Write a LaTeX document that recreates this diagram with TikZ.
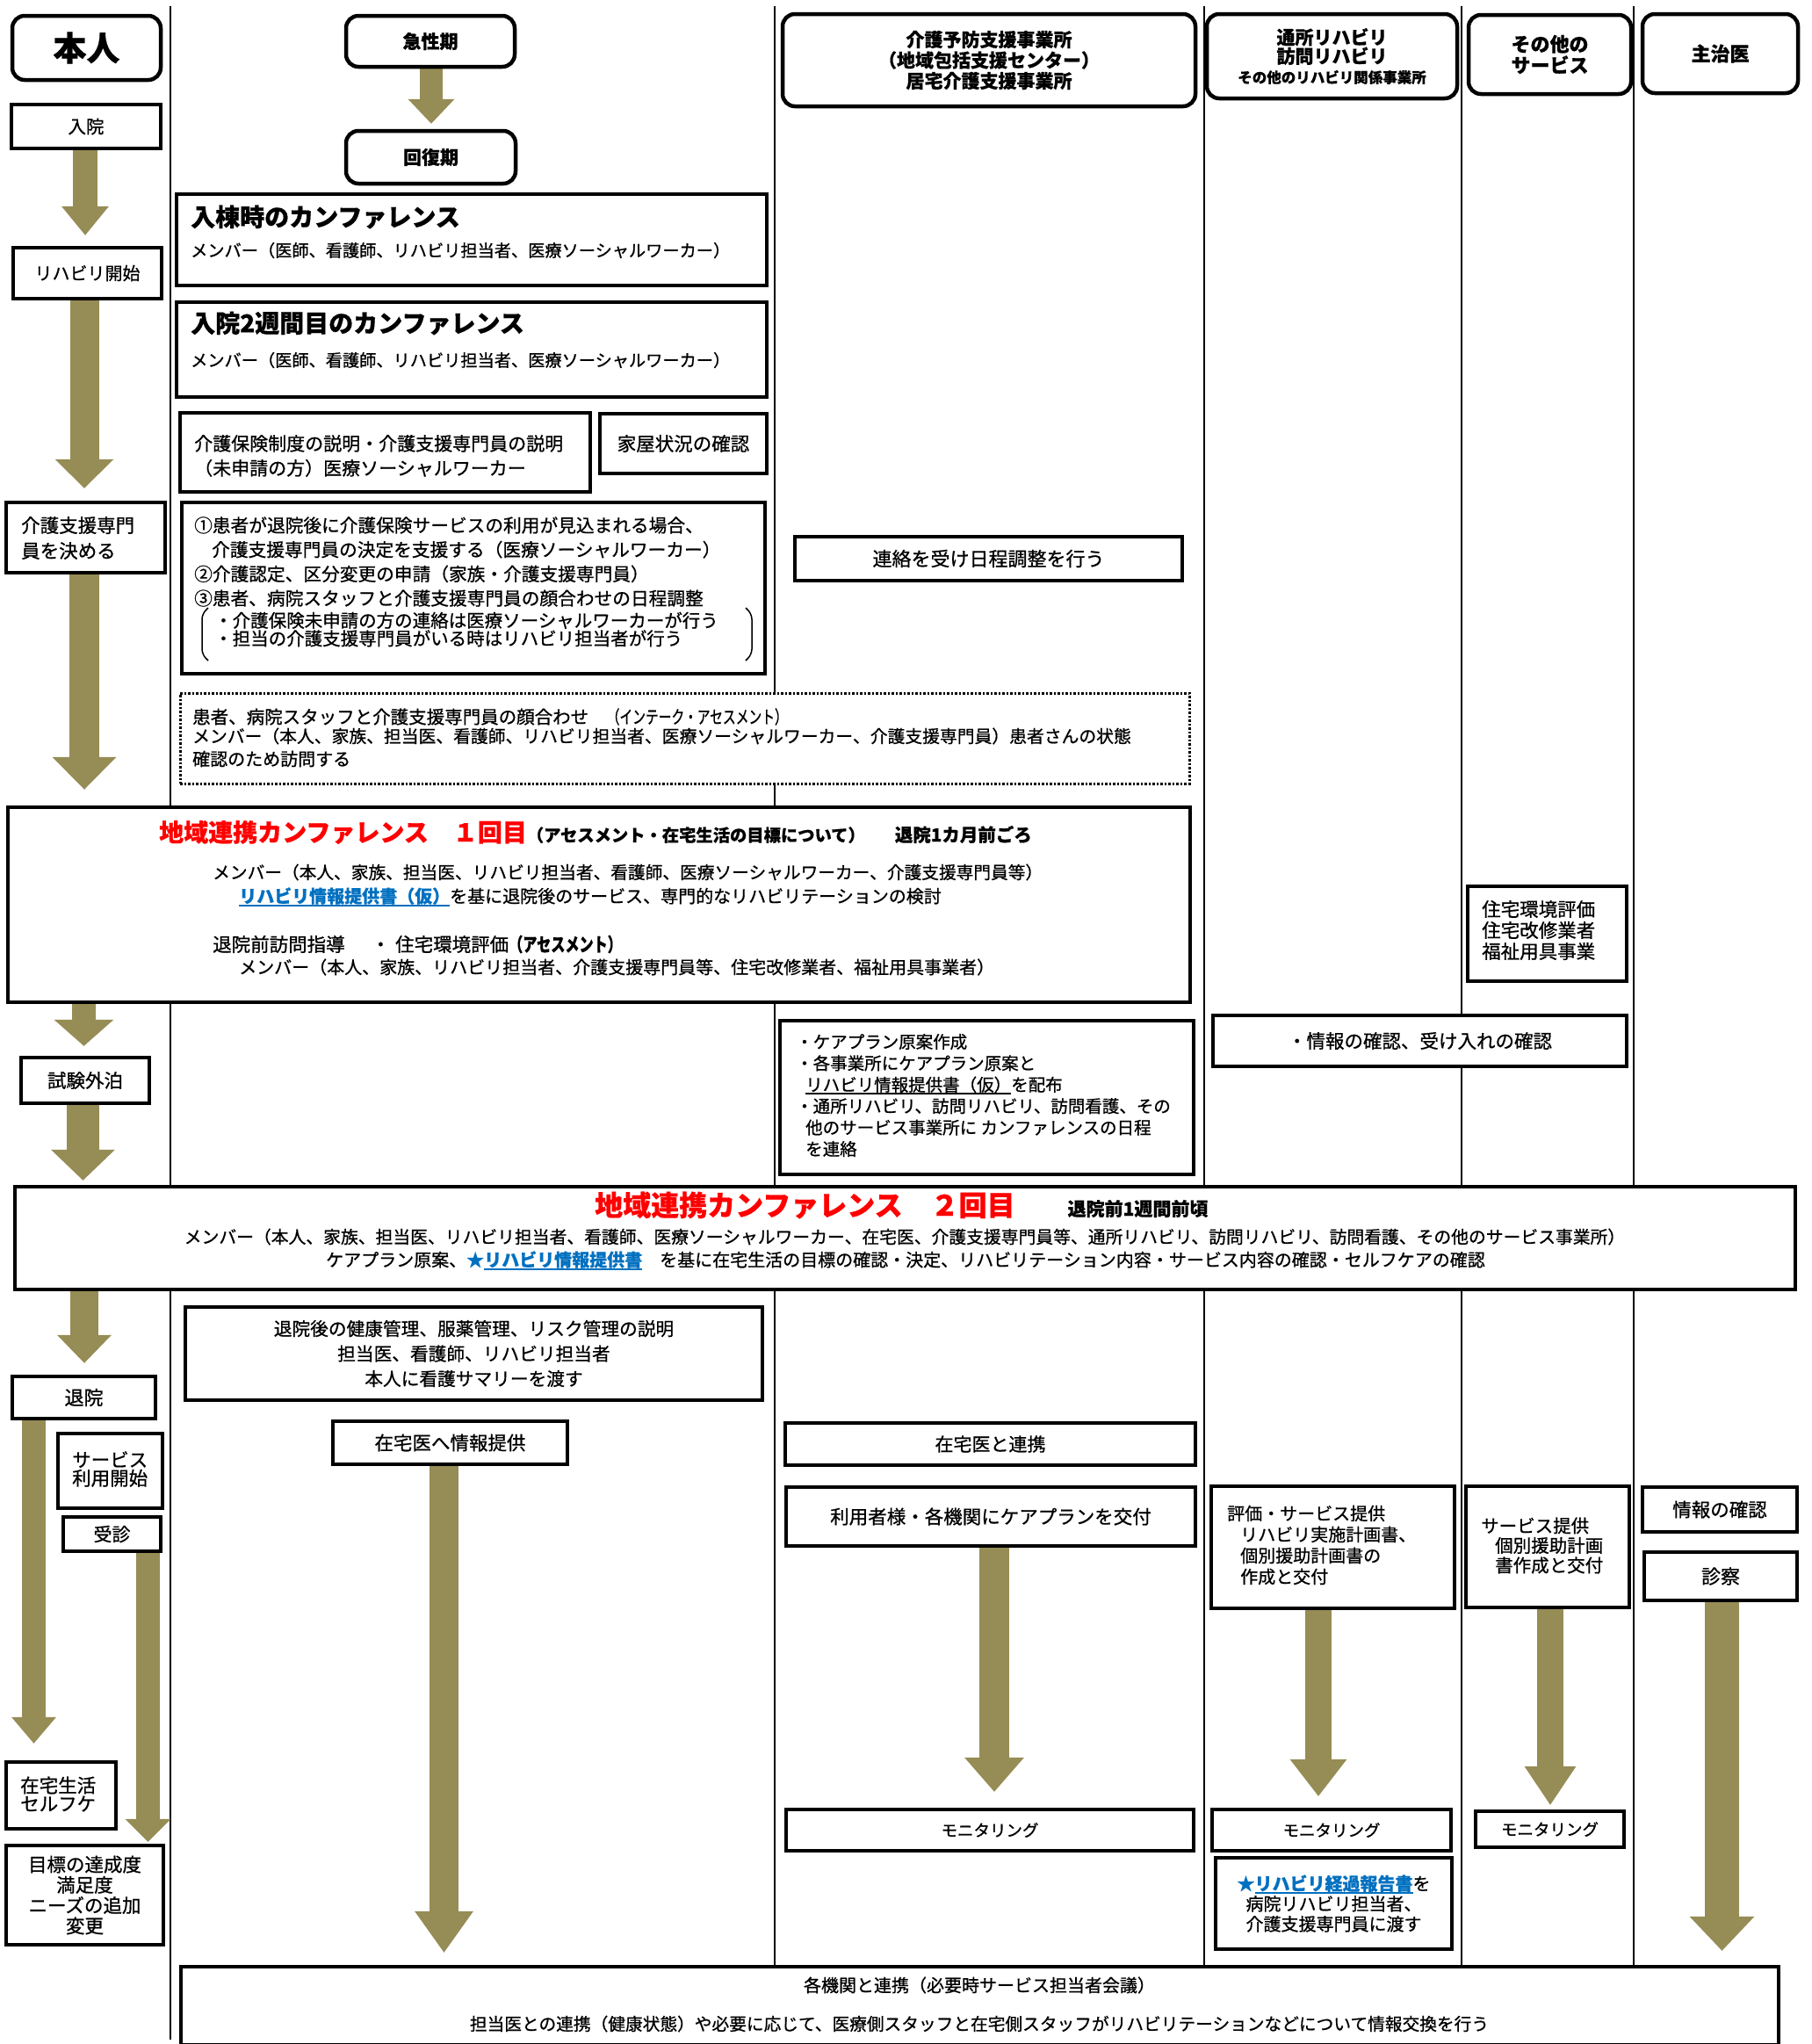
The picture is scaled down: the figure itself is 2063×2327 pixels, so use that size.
\documentclass[tikz,border=0pt]{standalone}
\usepackage{fontspec}
\usepackage{graphicx}
\setmainfont{Noto Sans CJK JP}[UprightFeatures={FakeBold=0.8},BoldFeatures={FakeBold=0.5}]
\usetikzlibrary{arrows.meta,calc}
\definecolor{arrowc}{RGB}{150,140,85}
\definecolor{linkblue}{RGB}{0,112,192}
\definecolor{tred}{RGB}{255,0,0}
\pgfdeclarelayer{bg}
\pgfsetlayers{bg,main}
\newcommand{\myfs}[2]{\fontsize{#1}{#2}\selectfont\lineskiplimit=-100pt\relax}
\newcommand{\myul}[1]{\begingroup\setbox0=\hbox{#1}\rlap{\rule[-4pt]{\wd0}{1.8pt}}\box0\endgroup}
\newcommand{\bxat}[7]{\node[#6,minimum width={(#4)-(#2)},minimum height={(#5)-(#3)}] (#1) at ({((#2)+(#4))/2},{((#3)+(#5))/2}) {#7};}
\begin{document}
\begin{tikzpicture}[x=1pt,y=-1pt,
  bx/.style={draw,line width=4.5pt,fill=white,inner sep=0pt,align=center},
  hd/.style={bx,rounded corners=14pt,font=\bfseries\myfs{21}{23.5}},
  tx/.style={anchor=west,align=left,inner sep=0pt},
  ct/.style={anchor=center,align=center,inner sep=0pt},
  col/.style={line width=2pt},
  blk/.style n args={3}{draw=arrowc,line width=#1pt,-{Triangle[length=#3pt,width=#2pt,line width=0pt]}}]
\useasboundingbox (0,0) rectangle (2063,2327);

% ---------- headers
\bxat{hHonnin}{14}{18}{183}{91}{hd,font=\bfseries\myfs{38}{40}}{本人}
\bxat{hAcute}{394}{18}{586}{76}{hd}{急性期}
\bxat{hRecov}{394}{149}{587}{209}{hd}{回復期}
\bxat{hCare}{891}{16}{1361}{121}{hd}{介護予防支援事業所\\（地域包括支援センター）\\居宅介護支援事業所}
\bxat{hRehab}{1374}{16}{1659}{112}{hd,font=\bfseries\myfs{21}{21.5}}{通所リハビリ\\訪問リハビリ\\[1pt]{\myfs{16.5}{18}その他のリハビリ関係事業所}}
\bxat{hOther}{1672}{17}{1857}{107}{hd,font=\bfseries\myfs{22}{24}}{その他の\\サービス}
\bxat{hDoc}{1870}{16}{2047}{106}{hd,font=\bfseries\myfs{22}{24}}{主治医}

% ---------- left column (本人)
\bxat{bNyuin}{13}{119}{183}{169}{bx,font=\myfs{20.5}{24}}{入院}
\bxat{bRehaStart}{15}{282}{184}{340}{bx,font=\myfs{20}{24}}{リハビリ開始}
\bxat{bCM}{7}{572}{188}{652}{bx}{}
\node[tx,font=\myfs{21.5}{29}] (tCM) at (24,612.5) {介護支援専門\\員を決める};
\bxat{bShiken}{24}{1204}{170}{1256}{bx,font=\myfs{21.5}{24}}{試験外泊}
\bxat{bTaiin}{14}{1567}{177}{1615}{bx,font=\myfs{22}{24}}{退院}
\bxat{bSvc}{66}{1632}{185}{1717}{bx}{}
\node[tx,font=\myfs{21.5}{21}] (tSvc) at (82,1672.5) {サービス\\利用開始};
\bxat{bJushin}{72}{1727}{183}{1766}{bx,font=\myfs{21}{24}}{受診}
\bxat{bZaitaku}{7}{2006}{132}{2082}{bx}{}
\node[tx,font=\myfs{21.5}{21}] (tZaitaku) at (23,2042.5) {在宅生活\\セルフケ};
\bxat{bGoal}{7}{2101}{186}{2214}{bx,font=\myfs{21.5}{23.3}}{目標の達成度\\満足度\\ニーズの追加\\変更}

% ---------- hospital column
\bxat{bConf1st}{201}{221}{873}{325}{bx}{}
\node[tx,font=\bfseries\myfs{28}{30}] (tConf1stT) at (217,247) {入棟時のカンファレンス};
\node[tx,font=\myfs{19.2}{24}] (tConf1stM) at (217,285) {メンバー（医師、看護師、リハビリ担当者、医療ソーシャルワーカー）};
\bxat{bConf2wk}{201}{344}{873}{452}{bx}{}
\node[tx,font=\bfseries\myfs{28}{30}] (tConf2wkT) at (217,368) {入院2週間目のカンファレンス};
\node[tx,font=\myfs{19.2}{24}] (tConf2wkM) at (217,410) {メンバー（医師、看護師、リハビリ担当者、医療ソーシャルワーカー）};
\bxat{bInsur}{205}{470}{672}{560}{bx}{}
\node[tx,font=\myfs{21}{28}] (tInsur) at (221,519) {介護保険制度の説明・介護支援専門員の説明\\（未申請の方）医療ソーシャルワーカー};
\bxat{bHouse}{683}{471}{873}{539}{bx,font=\myfs{21.5}{24}}{家屋状況の確認}
\bxat{bSteps}{207}{572}{871}{767}{bx}{}
\node[tx,font=\myfs{20.7}{27.7}] (tSteps) at (221,639.5) {①患者が退院後に介護保険サービスの利用が見込まれる場合、\\\hspace*{20pt}介護支援専門員の決定を支援する（医療ソーシャルワーカー）\\②介護認定、区分変更の申請（家族・介護支援専門員）\\③患者、病院スタッフと介護支援専門員の顔合わせの日程調整};
\node[tx,font=\myfs{20.5}{20.5}] (tStepsSub) at (244,716.5) {・介護保険未申請の方の連絡は医療ソーシャルワーカーが行う\\・担当の介護支援専門員がいる時はリハビリ担当者が行う};
\draw[line width=1.5pt,rounded corners=6pt] (237,692) -- (230,699) -- (230,745) -- (237,752);
\draw[line width=1.5pt,rounded corners=6pt] (849,692) -- (856,699) -- (856,745) -- (849,752);

\bxat{bMeet}{205}{789}{1354}{892}{bx,line width=3pt,dash pattern=on 2.5pt off 2pt}{}
\node[tx,font=\myfs{20.5}{24}] (tMeet1) at (219,816) {患者、病院スタッフと介護支援専門員の顔合わせ　\scalebox{0.72}[1]{（インテーク・アセスメント）}};
\node[tx,font=\myfs{19.8}{24}] (tMeet2) at (219,838) {メンバー（本人、家族、担当医、看護師、リハビリ担当者、医療ソーシャルワーカー、介護支援専門員）患者さんの状態};
\node[tx,font=\myfs{20}{24}] (tMeet3) at (219,864) {確認のため訪問する};

% ---------- conference 1
\bxat{bConfA}{9}{919}{1355}{1141}{bx}{}
\node[anchor=base west,inner sep=0pt] (tConfAT) at (181,958) {{\color{tred}\bfseries\myfs{28}{30}地域連携カンファレンス　１回目}{\bfseries\myfs{19.3}{22}（アセスメント・在宅生活の目標について）}\hspace{34pt}{\bfseries\myfs{20.5}{22}退院1カ月前ごろ}};
\node[tx,font=\myfs{19.7}{24}] (tConfAM) at (242,993) {メンバー（本人、家族、担当医、リハビリ担当者、看護師、医療ソーシャルワーカー、介護支援専門員等）};
\node[tx,font=\myfs{20}{24}] (tConfAS) at (272,1021) {{\color{linkblue}\bfseries\myul{リハビリ情報提供書（仮）}}を基に退院後のサービス、専門的なリハビリテーションの検討};
\node[tx,font=\myfs{21.5}{24}] (tConfAV) at (242,1075) {退院前訪問指導\hspace{30pt}・\hspace{6pt}住宅環境評価{\bfseries\scalebox{0.75}[1]{（アセスメント）}}};
\node[tx,font=\myfs{20}{24}] (tConfAV2) at (272,1101) {メンバー（本人、家族、リハビリ担当者、介護支援専門員等、住宅改修業者、福祉用具事業者）};

% ---------- care manager column
\bxat{bSchedule}{905}{611}{1346}{661}{bx,font=\myfs{22}{24}}{連絡を受け日程調整を行う}
\bxat{bPlan}{888}{1162}{1359}{1337}{bx}{}
\node[tx,font=\myfs{19.5}{24.4}] (tPlan) at (906,1247) {・ケアプラン原案作成\\・各事業所にケアプラン原案と\\\hspace*{11pt}\myul{リハビリ情報提供書（仮）}を配布\\・通所リハビリ、訪問リハビリ、訪問看護、その\\\hspace*{11pt}他のサービス事業所に カンファレンスの日程\\\hspace*{11pt}を連絡};

% ---------- rehab / other columns
\bxat{bHousing}{1671}{1009}{1852}{1117}{bx}{}
\node[tx,font=\myfs{21.5}{24}] (tHousing) at (1687,1059) {住宅環境評価\\住宅改修業者\\福祉用具事業};
\bxat{bAccept}{1381}{1156}{1852}{1214}{bx,font=\myfs{21.5}{24}}{・情報の確認、受け入れの確認}

% ---------- conference 2
\bxat{bConfB}{17}{1351}{2044}{1468}{bx}{}
\node[anchor=base west,inner sep=0pt] (tConfBT) at (677,1384) {{\color{tred}\bfseries\myfs{32}{34}地域連携カンファレンス　２回目}\hspace{60pt}{\bfseries\myfs{21}{23}退院前1週間前頃}};
\node[ct,font=\myfs{19.8}{24}] (tConfBM) at (1030,1408) {メンバー（本人、家族、担当医、リハビリ担当者、看護師、医療ソーシャルワーカー、在宅医、介護支援専門員等、通所リハビリ、訪問リハビリ、訪問看護、その他のサービス事業所）};
\node[ct,font=\myfs{20}{24}] (tConfBS) at (1031,1435) {ケアプラン原案、{\color{linkblue}\bfseries ★\myul{リハビリ情報提供書}}　を基に在宅生活の目標の確認・決定、リハビリテーション内容・サービス内容の確認・セルフケアの確認};

% ---------- after discharge
\bxat{bHealth}{211}{1488}{868}{1594}{bx,font=\myfs{20.7}{28.5}}{退院後の健康管理、服薬管理、リスク管理の説明\\担当医、看護師、リハビリ担当者\\本人に看護サマリーを渡す}
\bxat{bInfo}{379}{1618}{646}{1667}{bx,font=\myfs{21.5}{24}}{在宅医へ情報提供}
\bxat{bRenkei}{894}{1620}{1361}{1668}{bx,font=\myfs{21}{24}}{在宅医と連携}
\bxat{bDeliver}{895}{1693}{1361}{1760}{bx,font=\myfs{21.5}{24}}{利用者様・各機関にケアプランを交付}
\bxat{bMon1}{895}{2060}{1359}{2107}{bx,font=\myfs{18.5}{24}}{モニタリング}
\bxat{bEval}{1379}{1692}{1656}{1831}{bx}{}
\node[tx,font=\myfs{20}{24}] (tEval) at (1397,1759) {評価・サービス提供\\\hspace*{15pt}リハビリ実施計画書、\\\hspace*{15pt}個別援助計画書の\\\hspace*{15pt}作成と交付};
\bxat{bMon2}{1380}{2060}{1652}{2107}{bx,font=\myfs{18.5}{24}}{モニタリング}
\bxat{bReport}{1384}{2115}{1653}{2219}{bx,font=\myfs{20}{23}}{{\color{linkblue}\bfseries ★\myul{リハビリ経過報告書}}を\\病院リハビリ担当者、\\介護支援専門員に渡す}
\bxat{bSvc2}{1669}{1692}{1855}{1830}{bx}{}
\node[tx,font=\myfs{20.5}{22.5}] (tSvc2) at (1686,1759.5) {サービス提供\\\hspace*{16pt}個別援助計画\\\hspace*{16pt}書作成と交付};
\bxat{bMon3}{1680}{2062}{1849}{2103}{bx,font=\myfs{18.5}{24}}{モニタリング}
\bxat{bDocInfo}{1870}{1693}{2046}{1744}{bx,font=\myfs{21.5}{24}}{情報の確認}
\bxat{bExam}{1872}{1767}{2046}{1822}{bx,font=\myfs{22}{24}}{診察}

\bxat{bBottom}{206}{2239}{2025}{2328}{bx}{}
\node[ct,font=\myfs{20}{24}] (tBottom1) at (1115,2260) {各機関と連携（必要時サービス担当者会議）};
\node[ct,font=\myfs{19.7}{24}] (tBottom2) at (1115,2304) {担当医との連携（健康状態）や必要に応じて、医療側スタッフと在宅側スタッフがリハビリテーションなどについて情報交換を行う};

% ---------- background: lanes and arrows
\begin{pgfonlayer}{bg}
\fill[white] (0,0) rectangle (2063,2327);
\foreach \cx in {194,882,1371,1664,1860} \draw[col] (\cx,7) -- (\cx,2322);
\draw[blk={26}{53}{28}] ($(hAcute.south)+(1,0)$) -- ($(hRecov.north -| hAcute.south)+(1,-6)$);
\draw[blk={28}{54}{33}] ($(bNyuin.south)+(-1,0)$) -- ($(bRehaStart.north -| bNyuin.south)+(-1,-12)$);
\draw[blk={33}{67}{33}] ($(bRehaStart.south)+(-3.5,0)$) -- ($(bCM.north -| bRehaStart.south)+(-3.5,-14)$);
\draw[blk={34}{73}{37}] ($(bCM.south)+(-1.5,0)$) -- ($(bConfA.north -| bCM.south)+(-1.5,-18)$);
\draw[blk={27}{68}{30}] ($(bConfA.south -| bShiken.north)+(-1.5,0)$) -- ($(bShiken.north)+(-1.5,-11)$);
\draw[blk={37}{73}{35}] ($(bShiken.south)+(-2.5,0)$) -- ($(bConfB.north -| bShiken.south)+(-2.5,-5)$);
\draw[blk={32}{62}{32}] ($(bConfB.south -| bTaiin.north)+(0.5,0)$) -- ($(bTaiin.north)+(0.5,-13)$);
\draw[blk={27}{51}{30}] ($(bTaiin.south)+(-57,0)$) -- ($(bZaitaku.north -| bTaiin.south)+(-57,-19)$);
\draw[blk={27}{52}{26}] ($(bJushin.south)+(41,0)$) -- ($(bGoal.north -| bJushin.south)+(41,-2)$);
\draw[blk={33}{67}{47}] ($(bInfo.south)+(-7,0)$) -- ($(bBottom.north -| bInfo.south)+(-7,-14)$);
\draw[blk={34}{68}{39}] ($(bDeliver.south)+(4,0)$) -- ($(bMon1.north -| bDeliver.south)+(4,-18)$);
\draw[blk={30}{65}{42}] ($(bEval.south)+(-16.5,0)$) -- ($(bMon2.north -| bEval.south)+(-16.5,-13)$);
\draw[blk={30}{59}{44}] ($(bSvc2.south)+(3,0)$) -- ($(bMon3.north -| bSvc2.south)+(3,-5)$);
\draw[blk={39}{74}{39}] ($(bExam.south)+(1.5,0)$) -- ($(bBottom.north -| bExam.south)+(1.5,-16)$);
\end{pgfonlayer}
\end{tikzpicture}
\end{document}
